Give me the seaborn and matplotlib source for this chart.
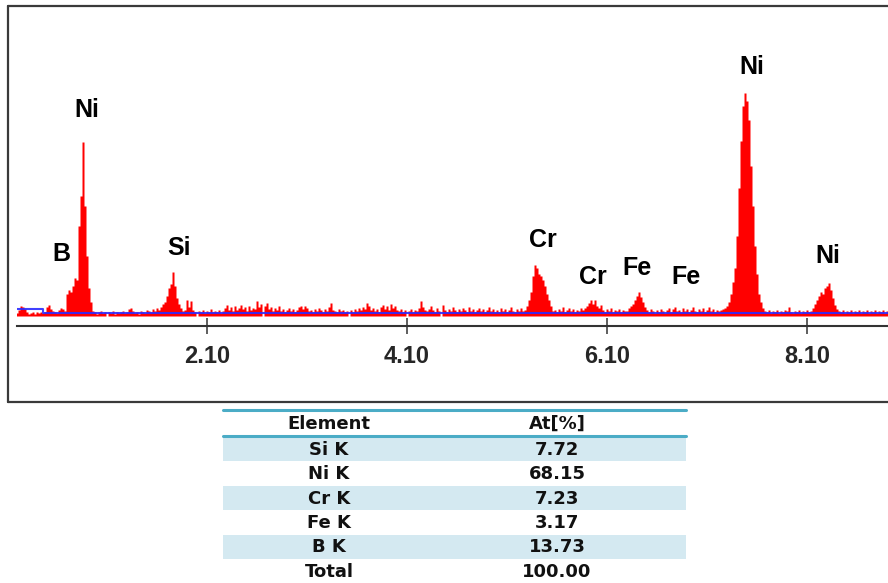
import numpy as np
import pandas as pd
import matplotlib
matplotlib.use("Agg")
import matplotlib.pyplot as plt
import seaborn as sns
from matplotlib.lines import Line2D
from matplotlib.patches import Rectangle

# ---- EDS spectrum: counts per 0.02 keV channel, first channel at 0.20 keV ----
e_start = 0.20
e_step = 0.02
counts = [
    3, 6, 10, 9, 7, 4, 2, 3, 4, 2, 4, 3, 4, 3, 4, 9, 11, 7, 5, 4,
    3, 6, 8, 7, 5, 22, 26, 24, 30, 38, 36, 90, 120, 174, 110, 60, 28, 14, 5, 4,
    2, 4, 5, 3, 4, 0, 4, 3, 5, 2, 4, 3, 4, 5, 3, 4, 7, 8, 5, 3,
    4, 2, 5, 4, 3, 6, 5, 4, 7, 5, 8, 6, 9, 12, 14, 20, 28, 32, 44, 30,
    18, 12, 8, 5, 6, 16, 9, 15, 6, 4, 0, 5, 4, 6, 3, 5, 4, 7, 4, 5,
    4, 6, 3, 5, 8, 11, 6, 9, 5, 10, 6, 8, 11, 7, 9, 5, 10, 6, 8, 7,
    15, 9, 12, 0, 10, 13, 7, 9, 5, 8, 6, 10, 5, 7, 4, 6, 8, 5, 7, 4,
    6, 9, 10, 7, 10, 8, 5, 6, 4, 7, 5, 8, 6, 4, 7, 5, 9, 13, 6, 5,
    4, 7, 5, 6, 4, 5, 0, 6, 4, 7, 5, 8, 6, 9, 7, 13, 10, 6, 8, 5,
    7, 4, 9, 11, 7, 10, 6, 12, 8, 10, 6, 5, 7, 4, 6, 0, 5, 7, 4, 6,
    5, 8, 15, 9, 6, 5, 7, 10, 6, 4, 8, 5, 0, 11, 6, 4, 7, 5, 9, 6,
    4, 7, 5, 8, 6, 4, 9, 5, 7, 4, 6, 8, 5, 7, 4, 6, 9, 5, 7, 4,
    6, 4, 8, 5, 7, 4, 6, 9, 5, 4, 7, 5, 8, 5, 6, 10, 16, 24, 40, 51,
    48, 42, 40, 36, 30, 22, 16, 10, 5, 6, 4, 7, 5, 9, 4, 6, 8, 5, 7, 4,
    6, 5, 8, 6, 8, 10, 13, 16, 12, 16, 10, 8, 11, 6, 4, 7, 5, 8, 4, 6,
    5, 7, 4, 6, 5, 5, 8, 10, 12, 16, 20, 24, 19, 14, 9, 6, 4, 7, 5, 3,
    6, 4, 7, 5, 3, 6, 8, 4, 7, 9, 5, 6, 4, 8, 5, 7, 4, 6, 9, 5,
    4, 7, 5, 8, 4, 6, 9, 5, 7, 4, 6, 5, 6, 7, 8, 10, 14, 22, 34, 48,
    80, 128, 175, 210, 223, 215, 196, 150, 110, 70, 42, 22, 14, 8, 5, 4, 6, 3, 5, 4,
    6, 3, 5, 4, 6, 5, 9, 4, 3, 5, 4, 6, 3, 5, 4, 6, 4, 5, 8, 12,
    16, 20, 24, 22, 28, 30, 33, 26, 18, 11, 7, 5, 4, 6, 3, 5, 4, 6, 3, 5,
    4, 6, 3, 5, 4, 6, 3, 5, 4, 6, 3, 5, 4, 6, 3, 5,
]

# fitted background level
bg_energy = [0.20, 0.46, 0.46, 8.91]
bg_level = [7, 7, 3.5, 3.5]

# peak identifications
peak_labels = ["Ni", "B", "Si", "Cr", "Cr", "Fe", "Fe", "Ni", "Ni"]
peak_energy = [0.90, 0.64, 1.82, 5.46, 5.96, 6.40, 6.89, 7.55, 8.31]
peak_label_y = [206, 62, 68, 76, 39, 48, 39, 249, 60]

tick_values = [2.10, 4.10, 6.10, 8.10]

# quantification table
elements = ["Si K", "Ni K", "Cr K", "Fe K", "B K"]
at_percent = [7.72, 68.15, 7.23, 3.17, 13.73]

# ---------------------------------------------------------------------------
sns.set_style("white")
plt.rcParams["font.family"] = ["Liberation Sans", "DejaVu Sans"]

W, H = 888, 583
fig = plt.figure(figsize=(W / 100, H / 100), dpi=100)

# overlay in pixel coordinates for the frame and the table
ov = fig.add_axes([0, 0, 1, 1])
ov.set_xlim(0, W)
ov.set_ylim(H, 0)
ov.axis("off")

frame_col = "#3a3a3a"
ov.add_line(Line2D([8, W], [6, 6], color=frame_col, lw=1.6))
ov.add_line(Line2D([8, 8], [6, 401.5], color=frame_col, lw=1.6))
ov.add_line(Line2D([8, W], [401.5, 401.5], color=frame_col, lw=1.6))

# spectrum axes
x0, x1 = 17, W
y_top, y_bot = 26, 326
ax = fig.add_axes([x0 / W, (H - y_bot) / H, (x1 - x0) / W, (y_bot - y_top) / H])
ax.patch.set_alpha(0)

n = len(counts)
energy = e_start + e_step * np.arange(n)
spec = pd.DataFrame({"energy": energy, "counts": counts})

sns.histplot(data=spec, x="energy", weights="counts", binwidth=e_step,
             binrange=(e_start - e_step / 2, energy[-1] + e_step / 2),
             element="step", fill=True, color="#ff0000", alpha=1.0,
             linewidth=0, ax=ax, zorder=2)

bg = pd.DataFrame({"energy": bg_energy, "level": bg_level})
sns.lineplot(data=bg, x="energy", y="level", sort=False, estimator=None,
             color="#2b2bff", alpha=0.9, lw=1.5, ax=ax, zorder=3)

for lab, ex, ey in zip(peak_labels, peak_energy, peak_label_y):
    ax.text(ex, ey, lab, ha="center", va="center", fontsize=18,
            fontweight="bold", color="black")

ax.set_xlim(0.20, 8.91)
ax.set_ylim(-10, 290)
ax.set_xticks(tick_values)
ax.set_xticklabels([f"{t:.2f}" for t in tick_values], fontsize=17,
                   fontweight="bold")
ax.set_yticks([])
ax.set_xlabel("")
ax.set_ylabel("")
for s in ["top", "left", "right"]:
    ax.spines[s].set_visible(False)
ax.spines["bottom"].set_color("#333333")
ax.spines["bottom"].set_linewidth(1.5)
ax.tick_params(axis="x", direction="inout", length=12, width=1.1,
               color="#333333", pad=8, bottom=True)

# ---- table ----
tl, tr = 223, 686
teal = "#4bacc6"
band = "#d4e9f1"
row_h = 24.4
first_row = 437
ov.add_line(Line2D([tl, tr], [409.5, 409.5], color=teal, lw=2.2))
ov.add_line(Line2D([tl, tr], [435.5, 435.5], color=teal, lw=2.2))

col1, col2 = 329, 557
tfont = dict(family=["DejaVu Sans"], fontsize=13, fontweight="bold",
             color="#111111", ha="center", va="center")
ov.text(col1, 424, "Element", **tfont)
ov.text(col2, 424, "At[%]", **tfont)

rows = list(zip(elements, [f"{v:.2f}" for v in at_percent]))
rows.append(("Total", f"{sum(at_percent):.2f}"))
for i, (el, val) in enumerate(rows):
    top = first_row + i * row_h
    if i % 2 == 0:
        ov.add_patch(Rectangle((tl, top), tr - tl, row_h, facecolor=band,
                               edgecolor="none", zorder=0))
    yc = top + row_h / 2 + 0.5
    ov.text(col1, yc, el, **tfont)
    ov.text(col2, yc, val, **tfont)

fig.savefig("out.png", dpi=100)
